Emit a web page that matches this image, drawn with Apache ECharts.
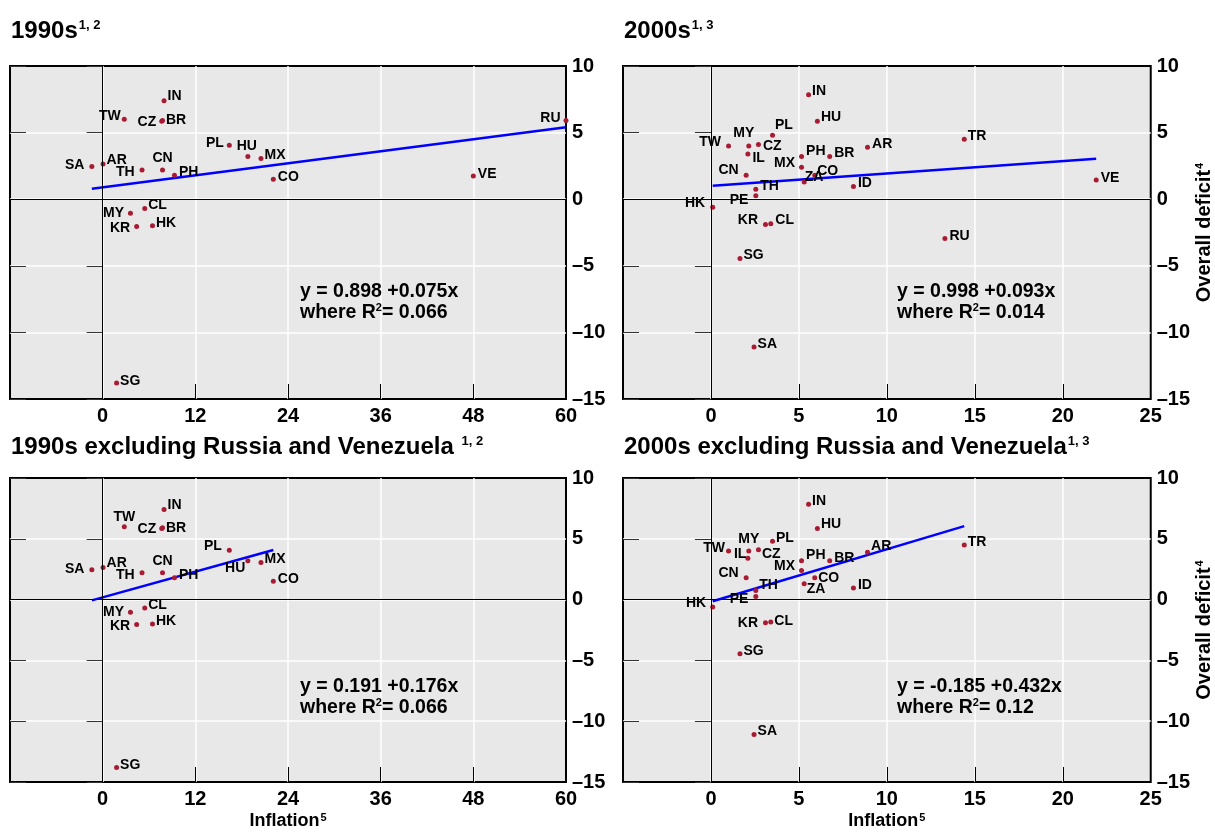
<!DOCTYPE html>
<html>
<head>
<meta charset="utf-8">
<script src="https://cdn.jsdelivr.net/npm/echarts@6/dist/echarts.min.js"></script>
<style>
  body { margin: 0; background: #fff; }
  #chart { width: 1215px; height: 833px; }
</style>
</head>
<body>
<div id="chart"></div>
<script>
// 1990s: inflation (x) and overall deficit (y)
var codes90 = ['SA', 'AR', 'TW', 'MY', 'KR', 'TH', 'CL', 'HK', 'CZ', 'BR', 'IN', 'CN', 'PH', 'PL', 'HU', 'MX', 'CO', 'SG', 'VE', 'RU'];
var infl90  = [-1.4, 0.05, 2.8, 3.6, 4.4, 5.1, 5.45, 6.45, 7.65, 7.75, 7.95, 7.75, 9.3, 16.4, 18.8, 20.5, 22.1, 1.8, 48.0, 60.0];
var def90   = [2.45, 2.65, 6.0, -1.05, -2.05, 2.2, -0.7, -2.0, 5.85, 5.9, 7.4, 2.2, 1.8, 4.05, 3.2, 3.05, 1.5, -13.8, 1.75, 5.9];

// 2000s
var codes00 = ['HK', 'TW', 'SG', 'CN', 'IL', 'MY', 'SA', 'PE', 'TH', 'CZ', 'KR', 'CL', 'PL', 'MX', 'PH', 'ZA', 'IN', 'CO', 'HU', 'BR', 'ID', 'AR', 'RU', 'TR', 'VE'];
var infl00  = [0.1, 1.0, 1.65, 2.0, 2.1, 2.15, 2.45, 2.55, 2.55, 2.7, 3.1, 3.4, 3.5, 5.15, 5.15, 5.3, 5.55, 5.9, 6.05, 6.75, 8.1, 8.9, 13.3, 14.4, 21.9];
var def00   = [-0.6, 4.0, -4.45, 1.8, 3.4, 4.0, -11.1, 0.25, 0.75, 4.1, -1.9, -1.85, 4.8, 2.4, 3.2, 1.3, 7.85, 1.8, 5.85, 3.2, 0.95, 3.9, -2.95, 4.5, 1.45];

// fitted lines, end points
var fit90    = [[-1.4, 0.79], [60, 5.40]];
var fit00    = [[0.1, 1.01], [21.9, 3.03]];
var fit90ex  = [[-1.4, -0.06], [22.1, 4.08]];
var fit00ex  = [[0.1, -0.14], [14.4, 6.04]];

var eq90   = ['y = 0.898 +0.075x', '0.066'];
var eq00   = ['y = 0.998 +0.093x', '0.014'];
var eq90ex = ['y = 0.191 +0.176x', '0.066'];
var eq00ex = ['y = -0.185 +0.432x', '0.12'];

var FONT = '"Liberation Sans", Arial, sans-serif';

// label placement per country: [position, dx, dy]
var lab90 = {
    IN: ['right', -2, -4], TW: ['left', 2, -3], CZ: ['left', 0, 1], BR: ['right', -2, 0],
    PL: ['left', 0, -2], HU: ['top', -1, 2], MX: ['right', -2, -3], SA: ['left', -2, -1],
    AR: ['right', -2, -4], TH: ['left', -2, 2], CN: ['top', 0, 1], PH: ['right', -1, -3],
    CO: ['right', -1, -2], MY: ['left', -1, 0], CL: ['right', -2, -3], KR: ['left', -1, 2],
    HK: ['right', -2, -3], VE: ['right', -1, -2], RU: ['left', 0, -2], SG: ['right', -2, -2]
};
var lab90ex = Object.assign({}, lab90, {
    TW: ['top', 0, 3], HU: ['left', 3, 7], MX: ['right', -2, -3], PL: ['left', -2, -4]
});
var lab00 = {
    IN: ['right', -2, -3], HU: ['right', -2, -4], PL: ['right', -3, -10], TW: ['left', -2, -4],
    MY: ['top', -5, 0], CZ: ['right', -1, 2], IL: ['right', -1, 4], PH: ['right', -1, -5],
    BR: ['right', -1, -3], AR: ['right', -1, -3], MX: ['left', -1, -4], CO: ['right', -3, -4],
    ZA: ['right', -5, -5], CN: ['left', -2, -5], ID: ['right', -1, -3], TH: ['right', -1, -3],
    PE: ['left', -2, 4], HK: ['left', -2, -4], KR: ['left', -2, -4], CL: ['right', -1, -4],
    SG: ['right', -2, -3], TR: ['right', -2, -3], VE: ['right', -1, -2], RU: ['right', -1, -2],
    SA: ['right', -2, -3]
};
var lab00ex = Object.assign({}, lab00, {
    MY: ['top', 0, 1], IL: ['left', 4, -4], CZ: ['right', -2, 4], PH: ['right', -1, -6],
    AR: ['right', -2, -6], CO: ['right', -2, 0], ZA: ['right', -3, 5], TH: ['right', -2, -5],
    PE: ['left', -2, 3], HK: ['left', -1, -4], KR: ['left', -2, 0], CL: ['right', -2, -1],
    PL: ['right', -2, -3], TW: ['left', 2, -3], CN: ['left', -2, -5]
});

function without(codes, vals, drop) {
    return vals.filter(function (v, i) { return drop.indexOf(codes[i]) < 0; });
}

var dropList = ['RU', 'VE'];

var panels = [
    { codes: codes90, x: infl90, y: def90, fit: fit90, eq: eq90, lab: lab90, decade: 90 },
    { codes: codes00, x: infl00, y: def00, fit: fit00, eq: eq00, lab: lab00, decade: 0 },
    { codes: without(codes90, codes90, dropList), x: without(codes90, infl90, dropList), y: without(codes90, def90, dropList), fit: fit90ex, eq: eq90ex, lab: lab90ex, decade: 90 },
    { codes: without(codes00, codes00, dropList), x: without(codes00, infl00, dropList), y: without(codes00, def00, dropList), fit: fit00ex, eq: eq00ex, lab: lab00ex, decade: 0 }
];

var grids = [
    { left: 10, top: 66, width: 556, height: 333 },
    { left: 623, top: 66, width: 529, height: 333 },
    { left: 10, top: 478, width: 556, height: 304 },
    { left: 623, top: 478, width: 529, height: 304 }
];

function dash(v) { return String(v).replace('-', '\u2013'); }

function supRich(size) {
    return {
        a: { fontSize: size, fontWeight: 'bold', fontFamily: FONT, color: '#000' },
        s: { fontSize: 11, fontWeight: 'bold', fontFamily: FONT, color: '#000', verticalAlign: 'top', padding: [0, 0, 0, 1] }
    };
}

var chart = echarts.init(document.getElementById('chart'));

var xAxes = [], yAxes = [], series = [], graphics = [];

panels.forEach(function (p, i) {
    var is90 = p.decade === 90;
    var bottom = i >= 2;
    xAxes.push({
        gridIndex: i, type: 'value',
        min: is90 ? -12 : -5, max: is90 ? 60 : 25, interval: is90 ? 12 : 5,
        axisLine: { show: false, onZero: false },
        axisTick: { inside: true, length: 15, lineStyle: { color: '#000', width: 1 } },
        axisLabel: { showMinLabel: false, color: '#000', fontSize: 20, fontWeight: 'bold', fontFamily: FONT, margin: 7 },
        splitLine: { show: true, showMinLine: false, showMaxLine: false, lineStyle: { color: '#fff', width: 1.5 } },
        name: bottom ? '{a|Inflation}{s|5}' : '',
        nameLocation: 'middle', nameGap: 30,
        nameTextStyle: { rich: supRich(18) }
    });
    // right axis with labels
    yAxes.push({
        gridIndex: i, type: 'value', position: 'right',
        min: -15, max: 10, interval: 5,
        axisLine: { show: false },
        axisTick: { inside: true, length: 16, lineStyle: { color: '#333', width: 1 } },
        axisLabel: { color: '#000', fontSize: 20, fontWeight: 'bold', fontFamily: FONT, margin: 6, formatter: dash },
        splitLine: { show: true, showMinLine: false, showMaxLine: false, lineStyle: { color: '#fff', width: 1.5 } },
        name: is90 ? '' : '{a|Overall deficit}{s|4}',
        nameLocation: 'middle', nameGap: 43, nameRotate: 90,
        nameTextStyle: { rich: supRich(20) }
    });
});

// left tick-only axes
panels.forEach(function (p, i) {
    yAxes.push({
        gridIndex: i, type: 'value', position: 'left',
        min: -15, max: 10, interval: 5,
        axisLine: { show: false },
        axisTick: { inside: true, length: 16, lineStyle: { color: '#333', width: 1 } },
        axisLabel: { show: false },
        splitLine: { show: false }
    });
});

panels.forEach(function (p, i) {
    var data = p.codes.map(function (c, k) {
        var l = p.lab[c] || ['right', 0, 0];
        return { name: c, value: [p.x[k], p.y[k]], label: { position: l[0], offset: [l[1], l[2]] } };
    });
    series.push({
        type: 'scatter', xAxisIndex: i, yAxisIndex: i,
        symbolSize: 5, itemStyle: { color: '#a81c33', opacity: 1 },
        label: { show: true, formatter: '{b}', distance: 3, fontSize: 14, fontWeight: 'bold', fontFamily: FONT, color: '#000', opacity: 1 },
        data: data, z: 4,
        markLine: {
            silent: true, symbol: ['none', 'none'], animation: false,
            label: { show: false },
            lineStyle: { color: '#000', width: 1, type: 'solid', opacity: 1 },
            data: [{ xAxis: 0 }, { yAxis: 0 }]
        }
    });
    series.push({
        type: 'line', xAxisIndex: i, yAxisIndex: i,
        data: p.fit, symbol: 'none', z: 3,
        lineStyle: { color: '#0000ff', width: 2.5 }
    });

    var g = grids[i];
    graphics.push({
        type: 'text', left: g.left + (i % 2 === 0 ? 290 : 274), top: g.top + (i < 2 ? 216 : 199),
        style: {
            text: '{e|' + p.eq[0] + '}\n{e|where R}{s|2}{e|= ' + p.eq[1] + '}',
            rich: {
                e: { fontSize: 19.5, fontWeight: 'bold', fontFamily: FONT, fill: '#000', lineHeight: 21 },
                s: { fontSize: 11, fontWeight: 'bold', fontFamily: FONT, fill: '#000', lineHeight: 21, verticalAlign: 'top' }
            }
        },
        z: 10
    });
});

var titleRich = {
    a: { fontSize: 24, fontWeight: 'bold', fontFamily: FONT, color: '#000' },
    s: { fontSize: 13, fontFamily: FONT, color: '#000', verticalAlign: 'top', padding: [0, 0, 0, 1] }
};

var option = {
    animation: false,
    backgroundColor: '#fff',
    title: [
        { left: 6, top: 14, text: '{a|1990s}{s|1, 2}', textStyle: { rich: titleRich } },
        { left: 619, top: 14, text: '{a|2000s}{s|1, 3}', textStyle: { rich: titleRich } },
        { left: 6, top: 430, text: '{a|1990s excluding Russia and Venezuela }{s|1, 2}', textStyle: { rich: titleRich } },
        { left: 619, top: 430, text: '{a|2000s excluding Russia and Venezuela}{s|1, 3}', textStyle: { rich: titleRich } }
    ],
    grid: grids.map(function (g) {
        return { left: g.left, top: g.top, width: g.width, height: g.height, show: true, backgroundColor: '#e8e8e8', borderWidth: 2, borderColor: '#000' };
    }),
    xAxis: xAxes,
    yAxis: yAxes,
    series: series,
    graphic: graphics
};

chart.setOption(option);
</script>
</body>
</html>
